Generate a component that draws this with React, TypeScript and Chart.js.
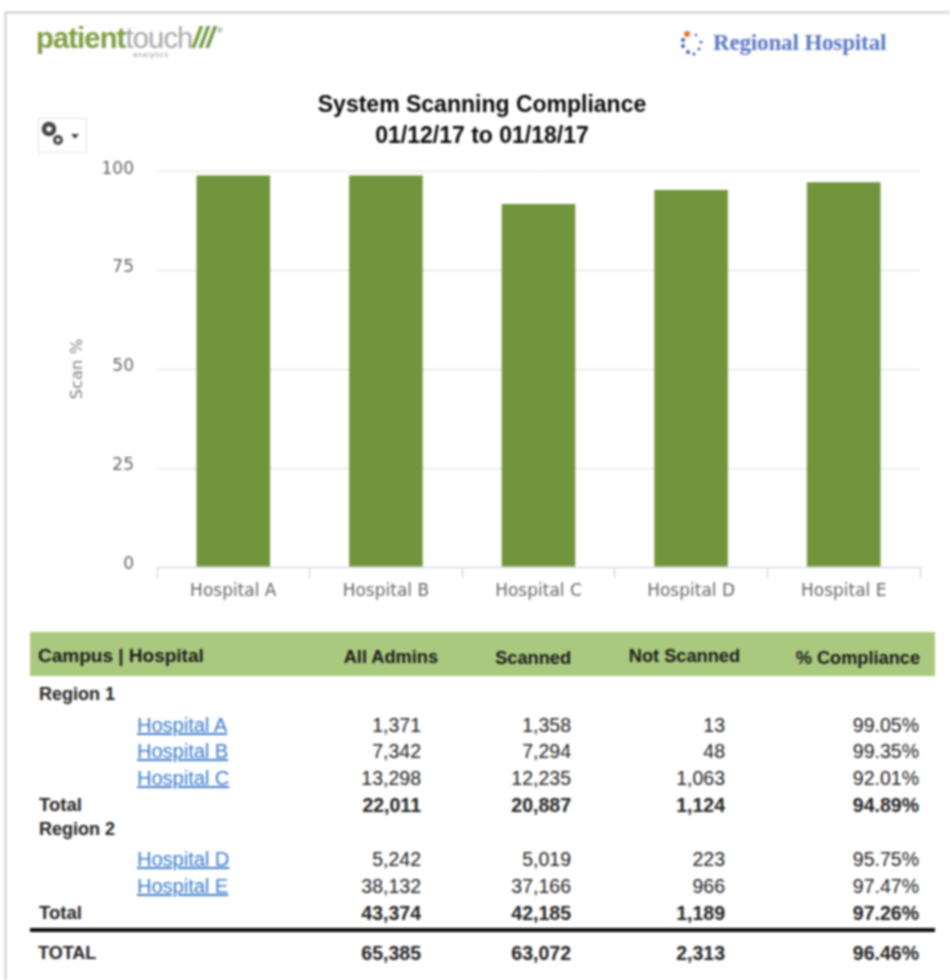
import React, { useEffect, useRef } from "react";
import { Chart, registerables } from "chart.js";

Chart.register(...registerables);

const categories = ["Hospital A", "Hospital B", "Hospital C", "Hospital D", "Hospital E"];
const scanPercent = [98.9, 98.9, 91.7, 95.2, 97.2];
const yTicks = [0, 25, 50, 75, 100];
const titleLines = ["System Scanning Compliance", "01/12/17 to 01/18/17"];

const headers = ["All Admins", "Scanned", "Not Scanned", "% Compliance"];
const region1Rows = [
  ["Hospital A", "1,371", "1,358", "13", "99.05%"],
  ["Hospital B", "7,342", "7,294", "48", "99.35%"],
  ["Hospital C", "13,298", "12,235", "1,063", "92.01%"],
];
const region1Total = ["Total", "22,011", "20,887", "1,124", "94.89%"];
const region2Rows = [
  ["Hospital D", "5,242", "5,019", "223", "95.75%"],
  ["Hospital E", "38,132", "37,166", "966", "97.47%"],
];
const region2Total = ["Total", "43,374", "42,185", "1,189", "97.26%"];
const grandTotal = ["TOTAL", "65,385", "63,072", "2,313", "96.46%"];

const SANS = '"Liberation Sans", Arial, sans-serif';
const AXIS = '"DejaVu Sans", sans-serif';
const numRight = [421, 571, 725, 919];
const headRight = [438, 571, 740, 920];
const headY = [657, 658, 656, 658];

function T(props: { x: number; y: number; right?: boolean; bold?: boolean; color?: string; size?: number; children: any; link?: boolean }) {
  const { x, y, right, bold, color, size, children, link } = props;
  return (
    <div
      style={{
        position: "absolute",
        top: y - 14,
        height: 28,
        lineHeight: "28px",
        whiteSpace: "nowrap",
        fontFamily: SANS,
        fontSize: size ?? 19.5,
        fontWeight: bold ? 700 : 400,
        color: color ?? "#222222",
        textDecoration: link ? "underline" : "none",
        ...(right ? { right: 950 - x } : { left: x }),
      }}
    >
      {children}
    </div>
  );
}

function Row(props: { y: number; row: string[]; bold?: boolean; link?: boolean; x?: number; labelSize?: number }) {
  const { y, row, bold, link, x, labelSize } = props;
  return (
    <>
      <T x={x ?? 39} y={y} bold={bold} link={link} size={labelSize} color={link ? "#3f7fd0" : undefined}>{row[0]}</T>
      {row.slice(1).map((v, i) => (
        <T key={i} x={numRight[i]} y={y} right bold={bold}>{v}</T>
      ))}
    </>
  );
}

export default function App() {
  const ref = useRef<HTMLCanvasElement>(null);
  useEffect(() => {
    const chart = new Chart(ref.current!, {
      type: "bar",
      data: {
        labels: categories,
        datasets: [{ data: scanPercent, backgroundColor: "#70953c", categoryPercentage: 1, barPercentage: 0.482, borderWidth: 0 }],
      },
      options: {
        animation: false,
        responsive: false,
        layout: { padding: { left: 24, right: 24, top: 0, bottom: 0 } },
        plugins: {
          legend: { display: false },
          tooltip: { enabled: false },
          title: {
            display: true,
            text: titleLines,
            color: "#0a0a0a",
            font: { family: SANS, size: 23, weight: "bold", lineHeight: 1.35 },
            padding: { top: 5, bottom: 19 },
          },
        },
        scales: {
          x: {
            afterFit: (s: any) => { s.height = 58; },
            border: { color: "#c0d0e0", width: 1 },
            grid: { drawOnChartArea: false, drawTicks: true, tickLength: 11, tickColor: "#c0d0e0", offset: true },
            ticks: { color: "#666666", font: { family: AXIS, size: 17 }, padding: 3, maxRotation: 0 },
          },
          y: {
            min: 0,
            max: 100,
            afterFit: (s: any) => { s.width = 113; },
            afterBuildTicks: (s: any) => { s.ticks = yTicks.map((value) => ({ value })); },
            border: { display: false },
            grid: { color: "#e0e0e0", drawTicks: false },
            ticks: { color: "#666666", font: { family: AXIS, size: 17 }, padding: 23, labelOffset: -2 } as any,
            title: { display: true, text: "Scan %", color: "#808080", font: { family: AXIS, size: 16.5 }, padding: { top: 24, bottom: 0 } },
          },
        },
      } as any,
    });
    return () => chart.destroy();
  }, []);

  return (
    <div style={{ position: "absolute", left: 0, top: 0, width: 950, height: 980, background: "#fff", overflow: "hidden", filter: "blur(0.8px)" }}>
      <div style={{ position: "absolute", left: 4, top: 11, width: 946, height: 3, background: "#dcdcdc" }} />
      <div style={{ position: "absolute", left: 4, top: 11, width: 3, height: 969, background: "#dcdcdc" }} />

      {/* header logos */}
      <div style={{ position: "absolute", left: 36, top: 21, height: 34, lineHeight: "34px", fontFamily: SANS, fontSize: 29, whiteSpace: "nowrap", letterSpacing: -0.8 }}>
        <span style={{ color: "#7f9f45", fontWeight: 700 }}>patient</span>
        <span style={{ color: "#a8a8a8" }}>touch</span>
        <span style={{ color: "#6f963d", fontWeight: 700, fontStyle: "italic", letterSpacing: -1 }}>///</span>
      </div>
      <div style={{ position: "absolute", left: 217, top: 26, fontFamily: SANS, fontSize: 8, lineHeight: "9px", color: "#777" }}>®</div>
      <div style={{ position: "absolute", left: 133, top: 50, fontFamily: SANS, fontSize: 7, lineHeight: "9px", letterSpacing: 1, color: "#999" }}>analytics</div>
      <svg style={{ position: "absolute", left: 678, top: 28 }} width="30" height="30">
        <circle cx="9" cy="6" r="3" fill="#e8702a" />
        <circle cx="5" cy="12" r="2" fill="#3c5fb0" />
        <circle cx="5" cy="18" r="2" fill="#3c5fb0" />
        <circle cx="10" cy="24" r="2" fill="#3c5fb0" />
        <circle cx="16" cy="26" r="1.5" fill="#3c5fb0" />
        <circle cx="21" cy="21" r="1.5" fill="#3c5fb0" />
        <circle cx="23" cy="14" r="1.5" fill="#3c5fb0" />
        <circle cx="18" cy="7" r="1.3" fill="#3c5fb0" />
      </svg>
      <div style={{ position: "absolute", left: 713, top: 29, height: 28, lineHeight: "28px", fontFamily: '"Liberation Serif", serif', fontSize: 22.7, fontWeight: 700, color: "#5b79c4", whiteSpace: "nowrap" }}>Regional Hospital</div>

      {/* options button */}
      <div style={{ position: "absolute", left: 38, top: 118, width: 49, height: 35, border: "1px solid #e4e4e4", boxSizing: "border-box" }}>
        <svg width="47" height="33">
          <circle cx="10" cy="10" r="5" fill="none" stroke="#444" strokeWidth="4.5" />
          <circle cx="19" cy="21" r="3.5" fill="none" stroke="#444" strokeWidth="3" />
          <path d="M32 15 h8 l-4 5 z" fill="#444" />
        </svg>
      </div>

      <canvas ref={ref} width={924} height={540} style={{ position: "absolute", left: 20, top: 85, width: 924, height: 540 }} />

      {/* table */}
      <div style={{ position: "absolute", left: 30, top: 632, width: 905, height: 44, background: "#a9c97e" }} />
      <T x={38} y={656} bold color="#1a1a1a" size={19}>Campus | Hospital</T>
      {headers.map((h, i) => (
        <T key={h} x={headRight[i]} y={headY[i]} right bold color="#1a1a1a" size={18.2}>{h}</T>
      ))}
      <T x={39} y={694} bold size={18}>Region 1</T>
      {region1Rows.map((r, i) => (
        <Row key={r[0]} y={[725, 751, 778][i]} row={r} link x={137} labelSize={20} />
      ))}
      <Row y={805} row={region1Total} bold labelSize={18.5} />
      <T x={39} y={829} bold size={18}>Region 2</T>
      {region2Rows.map((r, i) => (
        <Row key={r[0]} y={[859, 886][i]} row={r} link x={137} labelSize={20} />
      ))}
      <Row y={913} row={region2Total} bold labelSize={18.5} />
      <div style={{ position: "absolute", left: 30, top: 928, width: 905, height: 4, background: "#0a0a0a" }} />
      <Row y={953} row={grandTotal} bold x={38} labelSize={18} />
    </div>
  );
}
